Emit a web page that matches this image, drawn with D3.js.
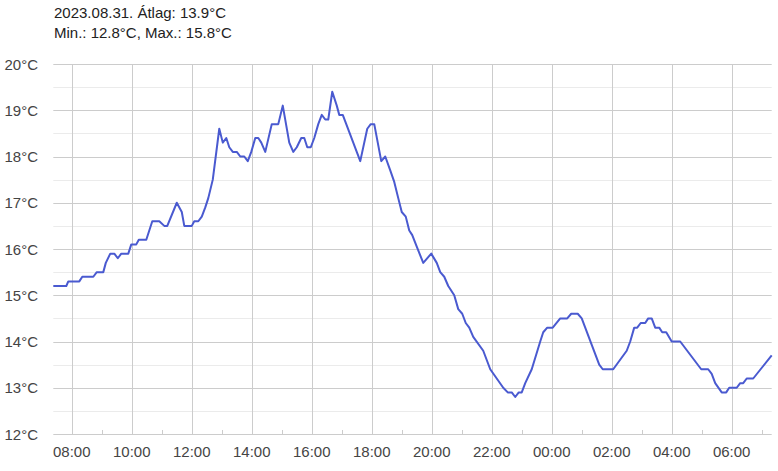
<!DOCTYPE html>
<html><head><meta charset="utf-8">
<script src="https://cdn.jsdelivr.net/npm/d3@7"></script>
<style>
html,body{margin:0;padding:0;background:#fff;}
svg{display:block;font-family:"Liberation Sans",Arial,sans-serif;}
</style></head>
<body>
<svg id="chart" width="778" height="471"></svg>
<script>
const titleLines = ["2023.08.31. Átlag: 13.9°C", "Min.: 12.8°C, Max.: 15.8°C"];
const times = ["07:23","07:49","07:53","08:15","08:21","08:43","08:50","09:03","09:08","09:17","09:25","09:32","09:39","09:53","09:59","10:09","10:14","10:29","10:41","10:55","11:05","11:11","11:30","11:40","11:45","12:00","12:05","12:13","12:20","12:27","12:33","12:42","12:55","13:02","13:09","13:15","13:22","13:30","13:37","13:45","13:52","13:59","14:07","14:13","14:19","14:27","14:40","14:53","15:02","15:15","15:23","15:30","15:39","15:45","15:51","15:58","16:05","16:13","16:20","16:27","16:33","16:41","16:50","16:55","17:02","17:37","17:51","17:58","18:05","18:19","18:27","18:37","18:45","18:53","19:00","19:08","19:15","19:21","19:30","19:43","19:59","20:10","20:17","20:25","20:33","20:45","20:53","21:01","21:08","21:15","21:23","21:43","21:57","22:23","22:32","22:40","22:47","22:54","23:00","23:07","23:20","23:37","23:43","23:51","00:02","00:17","00:31","00:39","00:52","01:00","01:35","01:42","02:03","02:30","02:37","02:45","02:51","02:58","03:07","03:13","03:20","03:27","03:35","03:41","03:49","04:00","04:17","04:59","05:13","05:20","05:27","05:40","05:49","05:55","06:10","06:17","06:23","06:30","06:43","07:20"];
const temps = [15.2,15.2,15.3,15.3,15.4,15.4,15.5,15.5,15.7,15.9,15.9,15.8,15.9,15.9,16.1,16.1,16.2,16.2,16.6,16.6,16.5,16.5,17.0,16.8,16.5,16.5,16.6,16.6,16.7,16.9,17.1,17.5,18.6,18.3,18.4,18.2,18.1,18.1,18.0,18.0,17.9,18.1,18.4,18.4,18.3,18.1,18.7,18.7,19.1,18.3,18.1,18.2,18.4,18.4,18.2,18.2,18.4,18.7,18.9,18.8,18.8,19.4,19.1,18.9,18.9,17.9,18.6,18.7,18.7,17.9,18.0,17.7,17.45,17.1,16.8,16.7,16.4,16.3,16.05,15.7,15.9,15.7,15.5,15.4,15.2,15.0,14.7,14.6,14.4,14.3,14.1,13.8,13.4,13.0,12.9,12.9,12.8,12.9,12.9,13.1,13.4,14.0,14.2,14.3,14.3,14.5,14.5,14.6,14.6,14.5,13.5,13.4,13.4,13.8,14.0,14.3,14.3,14.4,14.4,14.5,14.5,14.3,14.3,14.2,14.2,14.0,14.0,13.4,13.4,13.3,13.1,12.9,12.9,13.0,13.0,13.1,13.1,13.2,13.2,13.7];
const yTicks = [12,13,14,15,16,17,18,19,20];
const yMinor = [12.5,13.5,14.5,15.5,16.5,17.5,18.5,19.5];

(function () {
// build dated series (roll over midnight)
const base = new Date(2023, 7, 31);
let dayOff = 0, prev = -1;
const data = times.map((t, i) => {
  const [h, m] = t.split(":").map(Number);
  let mins = h * 60 + m;
  if (prev >= 0 && mins + dayOff * 1440 < prev) dayOff++;
  mins += dayOff * 1440;
  prev = mins;
  return { date: new Date(base.getTime() + mins * 60000), value: temps[i] };
});

const svg = d3.select("#chart");
const pL = 53.3, pR = 771.7, pT = 64, pB = 434;

const x = d3.scaleTime().domain(d3.extent(data, d => d.date)).range([pL, pR]);
const y = d3.scaleLinear().domain([12, 20]).range([pB, pT]);

// minor horizontal grid
svg.append("g").selectAll("line").data(yMinor).join("line")
  .attr("x1", pL).attr("x2", pR)
  .attr("y1", d => Math.round(y(d)) + 0.5).attr("y2", d => Math.round(y(d)) + 0.5)
  .attr("stroke", "#ebebeb").attr("stroke-width", 1);

// hour ticks: every 2h major, odd hours minor
const hours = d3.timeHour.range(d3.timeHour.ceil(x.domain()[0]), x.domain()[1]);
const majorH = hours.filter(d => d.getHours() % 2 === 0);
const minorH = hours.filter(d => d.getHours() % 2 === 1);

svg.append("g").selectAll("line").data(majorH).join("line")
  .attr("x1", d => Math.round(x(d)) + 0.5).attr("x2", d => Math.round(x(d)) + 0.5)
  .attr("y1", pT).attr("y2", pB)
  .attr("stroke", "#cccccc").attr("stroke-width", 1);

svg.append("g").selectAll("line").data(minorH).join("line")
  .attr("x1", d => Math.round(x(d)) + 0.5).attr("x2", d => Math.round(x(d)) + 0.5)
  .attr("y1", pB - 4).attr("y2", pB)
  .attr("stroke", "#cccccc").attr("stroke-width", 1);

// major horizontal grid
svg.append("g").selectAll("line").data(yTicks).join("line")
  .attr("x1", pL).attr("x2", pR)
  .attr("y1", d => Math.round(y(d)) + 0.5).attr("y2", d => Math.round(y(d)) + 0.5)
  .attr("stroke", "#cccccc").attr("stroke-width", 1);

// y labels
svg.append("g").selectAll("text").data(yTicks).join("text")
  .attr("x", 38).attr("y", d => y(d) + 5.5)
  .attr("text-anchor", "end").attr("font-size", 15).attr("fill", "#444")
  .text(d => d + "°C");

// x labels
const fmt = d3.timeFormat("%H:%M");
svg.append("g").selectAll("text").data(majorH).join("text")
  .attr("x", d => x(d)).attr("y", 457)
  .attr("text-anchor", "middle").attr("font-size", 15).attr("fill", "#444")
  .text(d => fmt(d));

// line
const line = d3.line().x(d => x(d.date)).y(d => y(d.value));
svg.append("path").datum(data)
  .attr("d", line).attr("fill", "none")
  .attr("stroke", "#4a5ad0").attr("stroke-width", 2)
  .attr("stroke-linejoin", "round");

// title
svg.append("g").selectAll("text").data(titleLines).join("text")
  .attr("x", 54).attr("y", (d, i) => 18 + i * 19.5)
  .attr("font-size", 15).attr("fill", "#222")
  .text(d => d);
})();
</script>
</body></html>
